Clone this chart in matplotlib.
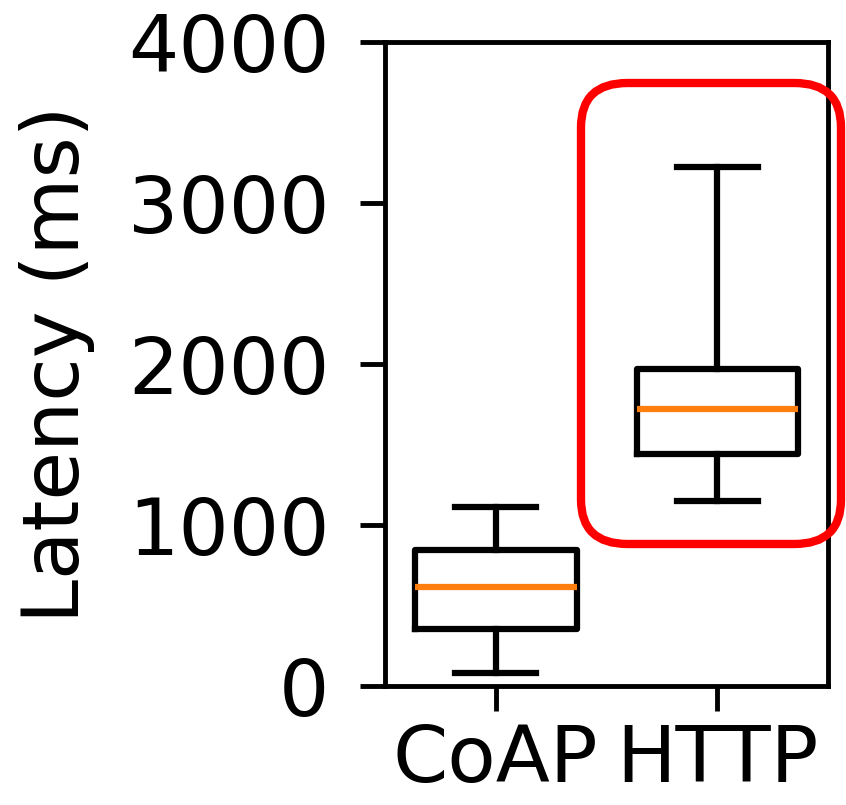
import matplotlib
matplotlib.use("Agg")
import matplotlib.pyplot as plt
from matplotlib.patches import FancyBboxPatch

categories = ["CoAP", "HTTP"]
whislo = [80, 1150]
q1 = [355, 1440]
med = [615, 1720]
q3 = [845, 1970]
whishi = [1110, 3225]
yticks = [0, 1000, 2000, 3000, 4000]

fig = plt.figure(figsize=(8.46, 8.05), dpi=100)
ax = fig.add_axes([0.455, 0.148, 0.524, 0.80])

stats = []
for i, c in enumerate(categories):
    stats.append(dict(label=c, whislo=whislo[i], q1=q1[i], med=med[i],
                      q3=q3[i], whishi=whishi[i], fliers=[]))

lw = 4.5
ax.bxp(stats, widths=0.73, showfliers=False,
       boxprops=dict(linewidth=lw, color="black"),
       whiskerprops=dict(linewidth=lw, color="black"),
       capprops=dict(linewidth=lw, color="black"),
       medianprops=dict(linewidth=lw, color="#ff7f0e"))

fs = 57
ax.set_ylim(0, 4000)
ax.set_xlim(0.5, 2.5)
ax.set_yticks(yticks)
ax.set_yticklabels([str(t) for t in yticks])
ax.set_ylabel("Latency (ms)", fontsize=fs, labelpad=24)
ax.tick_params(axis="both", labelsize=fs, width=3.5, length=18)
ax.tick_params(axis="y", pad=22)
ax.tick_params(axis="x", pad=8)
for s in ax.spines.values():
    s.set_linewidth(3.5)

rect = FancyBboxPatch((581 / 846, 1 - 544 / 805), (841 - 581) / 846, (544 - 83) / 805,
                      boxstyle="round,pad=0,rounding_size=0.055",
                      transform=fig.transFigure, fill=False,
                      edgecolor="red", linewidth=6, clip_on=False)
fig.patches.append(rect)

fig.savefig("out.png", dpi=100)
